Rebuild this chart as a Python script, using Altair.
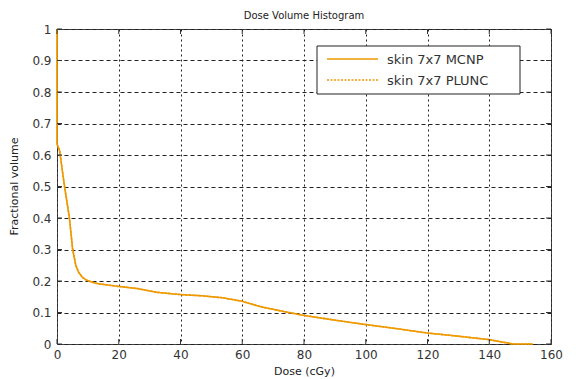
import altair as alt
import pandas as pd

# Dose-volume histogram values
dose = [0, 0, 0.84, 2.4, 4.0, 5.05, 6.1, 7.0, 8.2, 9.5, 11.4, 13.5, 19.8, 26.0,
        32.4, 39.8, 47.0, 53.5, 59.8, 66.1, 72.0, 79.8, 89.8, 99.8, 109.8, 119.8,
        129.8, 139.8, 147.7, 154.0]
vol_mcnp = [1.0, 0.635, 0.614, 0.503, 0.402, 0.302, 0.249, 0.228, 0.212, 0.203, 0.196,
            0.191, 0.183, 0.176, 0.164, 0.157, 0.153, 0.147, 0.136, 0.118, 0.106,
            0.091, 0.076, 0.062, 0.049, 0.035, 0.025, 0.014, 0.0, 0.0]
vol_plunc = vol_mcnp[:]  # visually indistinguishable from the MCNP curve

series = ["skin 7x7 MCNP", "skin 7x7 PLUNC"]
x_ticks = [0, 20, 40, 60, 80, 100, 120, 140, 160]
y_ticks = [0, 0.1, 0.2, 0.3, 0.4, 0.5, 0.6, 0.7, 0.8, 0.9, 1]

rows = []
for name, vals in zip(series, [vol_mcnp, vol_plunc]):
    for i, (d, v) in enumerate(zip(dose, vals)):
        rows.append({"series": name, "dose": d, "vol": v, "idx": i})
df = pd.DataFrame(rows)

orange = "#EE9900"
W, H = 494, 315
font = "DejaVu Sans"
dashes = [[1, 0], [2, 1.5]]

xscale = alt.Scale(domain=[0, 160], nice=False)
yscale = alt.Scale(domain=[0, 1], nice=False)

xaxis = alt.Axis(values=x_ticks, title="Dose (cGy)", grid=True,
                 gridDash=[2, 3], gridColor="#222", gridOpacity=1,
                 domain=False, ticks=False, labelPadding=5,
                 labelOverlap=False, labelFlush=False,
                 titleBaseline="top", titleY=21)
yaxis = alt.Axis(values=y_ticks, title="Fractional volume", grid=True,
                 gridDash=[4, 3], gridColor="#222", gridOpacity=1,
                 domain=False, ticks=False, labelPadding=6,
                 labelOverlap=False, labelFlush=False, format="~g",
                 titleAngle=270, titleX=-38, titleY=157,
                 titleBaseline="bottom", titleAlign="center")

lines = alt.Chart(df).mark_line(strokeWidth=1.6, interpolate="linear").encode(
    x=alt.X("dose:Q", scale=xscale, axis=xaxis),
    y=alt.Y("vol:Q", scale=yscale, axis=yaxis),
    color=alt.Color("series:N",
                    scale=alt.Scale(domain=series, range=[orange, orange]),
                    legend=None),
    strokeDash=alt.StrokeDash("series:N",
                              scale=alt.Scale(domain=series, range=dashes),
                              legend=None),
    order="idx:Q",
)

tx = pd.DataFrame({"t": x_ticks})
ty = pd.DataFrame({"t": y_ticks})
tick_col = "#333"
bt = alt.Chart(tx).mark_rule(color=tick_col).encode(
    x=alt.X("t:Q", scale=xscale, axis=xaxis), y=alt.value(H), y2=alt.value(H - 5))
tt = alt.Chart(tx).mark_rule(color=tick_col).encode(
    x=alt.X("t:Q", scale=xscale, axis=xaxis), y=alt.value(0), y2=alt.value(5))
lt = alt.Chart(ty).mark_rule(color=tick_col).encode(
    y=alt.Y("t:Q", scale=yscale, axis=yaxis), x=alt.value(0), x2=alt.value(5))
rt = alt.Chart(ty).mark_rule(color=tick_col).encode(
    y=alt.Y("t:Q", scale=yscale, axis=yaxis), x=alt.value(W), x2=alt.value(W - 5))

# legend box drawn by hand
leg_df = pd.DataFrame({"series": series})
box = alt.Chart(leg_df).transform_filter(alt.datum.series == series[0]).mark_rect(
    fill="white", stroke="#222", strokeWidth=1
).encode(x=alt.value(260), x2=alt.value(463), y=alt.value(17), y2=alt.value(65))

leg_layers = [box]
for i, name in enumerate(series):
    yy = 30 + 21 * i
    base = alt.Chart(leg_df).transform_filter(alt.datum.series == name)
    leg_layers.append(base.mark_rule(color=orange, strokeWidth=1.6,
                                     strokeDash=dashes[i]).encode(
        x=alt.value(270), x2=alt.value(321), y=alt.value(yy)))
    leg_layers.append(base.mark_text(align="left", baseline="middle", font=font,
                                     fontSize=13, color="#333").encode(
        x=alt.value(330), y=alt.value(yy + 1), text="series:N"))

chart = alt.layer(lines, bt, tt, lt, rt, *leg_layers).properties(
    width=W, height=H,
    title=alt.TitleParams("Dose Volume Histogram", fontSize=10, font=font,
                          fontWeight="normal", color="#222", offset=2,
                          anchor="middle"),
    autosize=alt.AutoSizeParams(type="none"),
    padding={"left": 49, "top": 21, "right": 17, "bottom": 35},
).configure_view(
    stroke="#444", strokeWidth=1
).configure_axis(
    labelFont=font, labelFontSize=12, labelColor="#333",
    titleFont=font, titleFontSize=11, titleFontWeight="normal", titleColor="#222",
)

chart.save("out.html", embed_options={"renderer": "svg", "actions": False})
